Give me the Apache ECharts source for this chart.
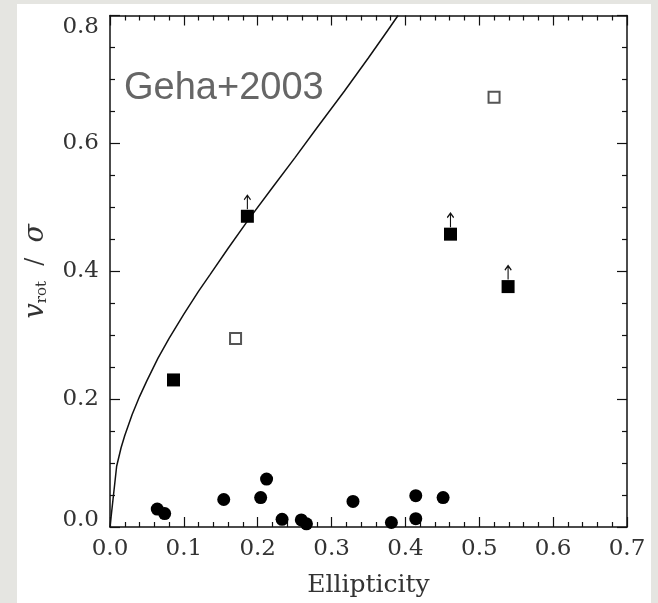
<!DOCTYPE html>
<html>
<head>
<meta charset="utf-8">
<script src="https://cdn.jsdelivr.net/npm/echarts@6/dist/echarts.min.js"></script>
<style>
  html, body { margin: 0; padding: 0; background: #e5e5e1; }
  #chart { width: 658px; height: 603px; }
</style>
</head>
<body>
<div id="chart"></div>
<script>
// ---- data ----
const xTicks = [0.0, 0.1, 0.2, 0.3, 0.4, 0.5, 0.6, 0.7];
const yTicks = [0.0, 0.2, 0.4, 0.6, 0.8];

// filled circles
const circleX = [0.064, 0.074, 0.154, 0.204, 0.212, 0.233, 0.259, 0.266, 0.329, 0.381, 0.414, 0.414, 0.451];
const circleY = [0.028, 0.021, 0.043, 0.046, 0.075, 0.012, 0.011, 0.005, 0.040, 0.007, 0.049, 0.013, 0.046];

// filled squares
const fsqX = [0.086, 0.186, 0.461, 0.539];
const fsqY = [0.230, 0.486, 0.458, 0.376];
// lower-limit flags (arrow drawn above the square)
const fsqLimit = [false, true, true, true];

// open squares
const osqX = [0.170, 0.520];
const osqY = [0.295, 0.672];

// rotator curve
const curveX = [0, 0.009, 0.015, 0.02, 0.03, 0.04, 0.05, 0.065, 0.08, 0.1, 0.12, 0.135, 0.16, 0.187, 0.22, 0.25, 0.28, 0.3175, 0.35, 0.375, 0.39];
const curveY = [0, 0.095, 0.124, 0.143, 0.176, 0.204, 0.229, 0.264, 0.295, 0.333, 0.369, 0.394, 0.436, 0.480, 0.531, 0.577, 0.624, 0.682, 0.734, 0.775, 0.800];

const labelText = 'Geha+2003';

// ---- build ----
const zip = (a, b) => a.map((v, i) => [v, b[i]]);
const limitPts = fsqX.map((v, i) => [v, fsqY[i]]).filter((p, i) => fsqLimit[i]);

const serif = 'DejaVu Serif';
const axisCommon = {
  type: 'value',
  axisLine: { show: true, onZero: false, lineStyle: { color: '#111', width: 1.5 } },
  axisTick: { show: true, inside: true, length: 10, lineStyle: { color: '#111', width: 1.2 } },
  minorTick: { show: true, length: 5, lineStyle: { color: '#111', width: 1.2 } },
  splitLine: { show: false }
};

const chart = echarts.init(document.getElementById('chart'), null, { renderer: 'canvas' });
chart.setOption({
  animation: false,
  backgroundColor: 'transparent',
  graphic: [
    { type: 'rect', z: -10, silent: true, shape: { x: 17, y: 4, width: 634, height: 599 }, style: { fill: '#ffffff' } },
    { type: 'text', left: 124, top: 70, z: 10, style: { text: labelText, font: '38px "Liberation Sans", Arial, sans-serif', fill: '#666666' } }
  ],
  grid: { left: 110, right: 31, top: 15.5, bottom: 76, containLabel: false, outerBoundsMode: 'none' },
  xAxis: [
    Object.assign({}, axisCommon, {
      min: 0, max: 0.7, interval: 0.1, position: 'bottom',
      minorTick: Object.assign({}, axisCommon.minorTick, { splitNumber: 5 }),
      axisLabel: { margin: 11, fontFamily: serif, fontSize: 23, color: '#333',
        formatter: v => xTicks.find(t => Math.abs(t - v) < 1e-9).toFixed(1) },
      name: 'Ellipticity', nameLocation: 'middle', nameGap: 46,
      nameTextStyle: { fontFamily: serif, fontSize: 25, color: '#333' }
    }),
    Object.assign({}, axisCommon, {
      min: 0, max: 0.7, interval: 0.1, position: 'top',
      minorTick: Object.assign({}, axisCommon.minorTick, { splitNumber: 5 }),
      axisLabel: { show: false }
    })
  ],
  yAxis: [
    Object.assign({}, axisCommon, {
      min: 0, max: 0.8, interval: 0.2, position: 'left',
      minorTick: Object.assign({}, axisCommon.minorTick, { splitNumber: 4 }),
      axisLabel: { margin: 11, fontFamily: serif, fontSize: 23, color: '#333',
        verticalAlignMinLabel: 'bottom', verticalAlignMaxLabel: 'top',
        formatter: v => {
          const s = yTicks.find(t => Math.abs(t - v) < 1e-9).toFixed(1);
          return v === 0 ? '{b|' + s + '}' : s;
        },
        rich: { b: { fontFamily: serif, fontSize: 23, color: '#333', lineHeight: 13 } }
      },
      name: '{v|v}{s|rot}{n|  /  }{g|σ}', nameLocation: 'middle', nameGap: 58, nameRotate: 90,
      nameTextStyle: {
        color: '#333',
        rich: {
          v: { fontFamily: serif, fontStyle: 'italic', fontSize: 27, color: '#333', lineHeight: 32 },
          s: { fontFamily: serif, fontSize: 15, color: '#333', verticalAlign: 'bottom', lineHeight: 15, padding: [0, 0, 2, 0] },
          n: { fontFamily: serif, fontSize: 24, color: '#333', lineHeight: 32 },
          g: { fontFamily: serif, fontStyle: 'italic', fontSize: 27, color: '#333', lineHeight: 32 }
        }
      }
    }),
    Object.assign({}, axisCommon, {
      min: 0, max: 0.8, interval: 0.2, position: 'right',
      minorTick: Object.assign({}, axisCommon.minorTick, { splitNumber: 4 }),
      axisLabel: { show: false }
    })
  ],
  series: [
    {
      type: 'line', data: zip(curveX, curveY), showSymbol: false, symbol: 'none', smooth: false,
      lineStyle: { color: '#111', width: 1.5 }, z: 2
    },
    {
      type: 'scatter', data: zip(circleX, circleY), symbol: 'circle', symbolSize: 13,
      itemStyle: { color: '#000', opacity: 1 }, clip: false, z: 3
    },
    {
      type: 'scatter', data: zip(fsqX, fsqY), symbol: 'rect', symbolSize: 13,
      itemStyle: { color: '#000', opacity: 1 }, clip: false, z: 3
    },
    {
      type: 'scatter', data: zip(osqX, osqY), symbol: 'rect', symbolSize: 11,
      itemStyle: { color: '#fff', borderColor: '#555', borderWidth: 2, opacity: 1 }, clip: false, z: 3
    },
    {
      type: 'scatter', data: limitPts,
      symbol: 'path://M5 0 L5 14 M0.5 4.5 L5 0 L9.5 4.5', symbolSize: [10, 14], symbolOffset: [0, -14],
      symbolKeepAspect: true,
      itemStyle: { color: 'none', borderColor: '#111', borderWidth: 1.3, opacity: 1 }, clip: false, z: 4
    }
  ]
});
</script>
</body>
</html>
